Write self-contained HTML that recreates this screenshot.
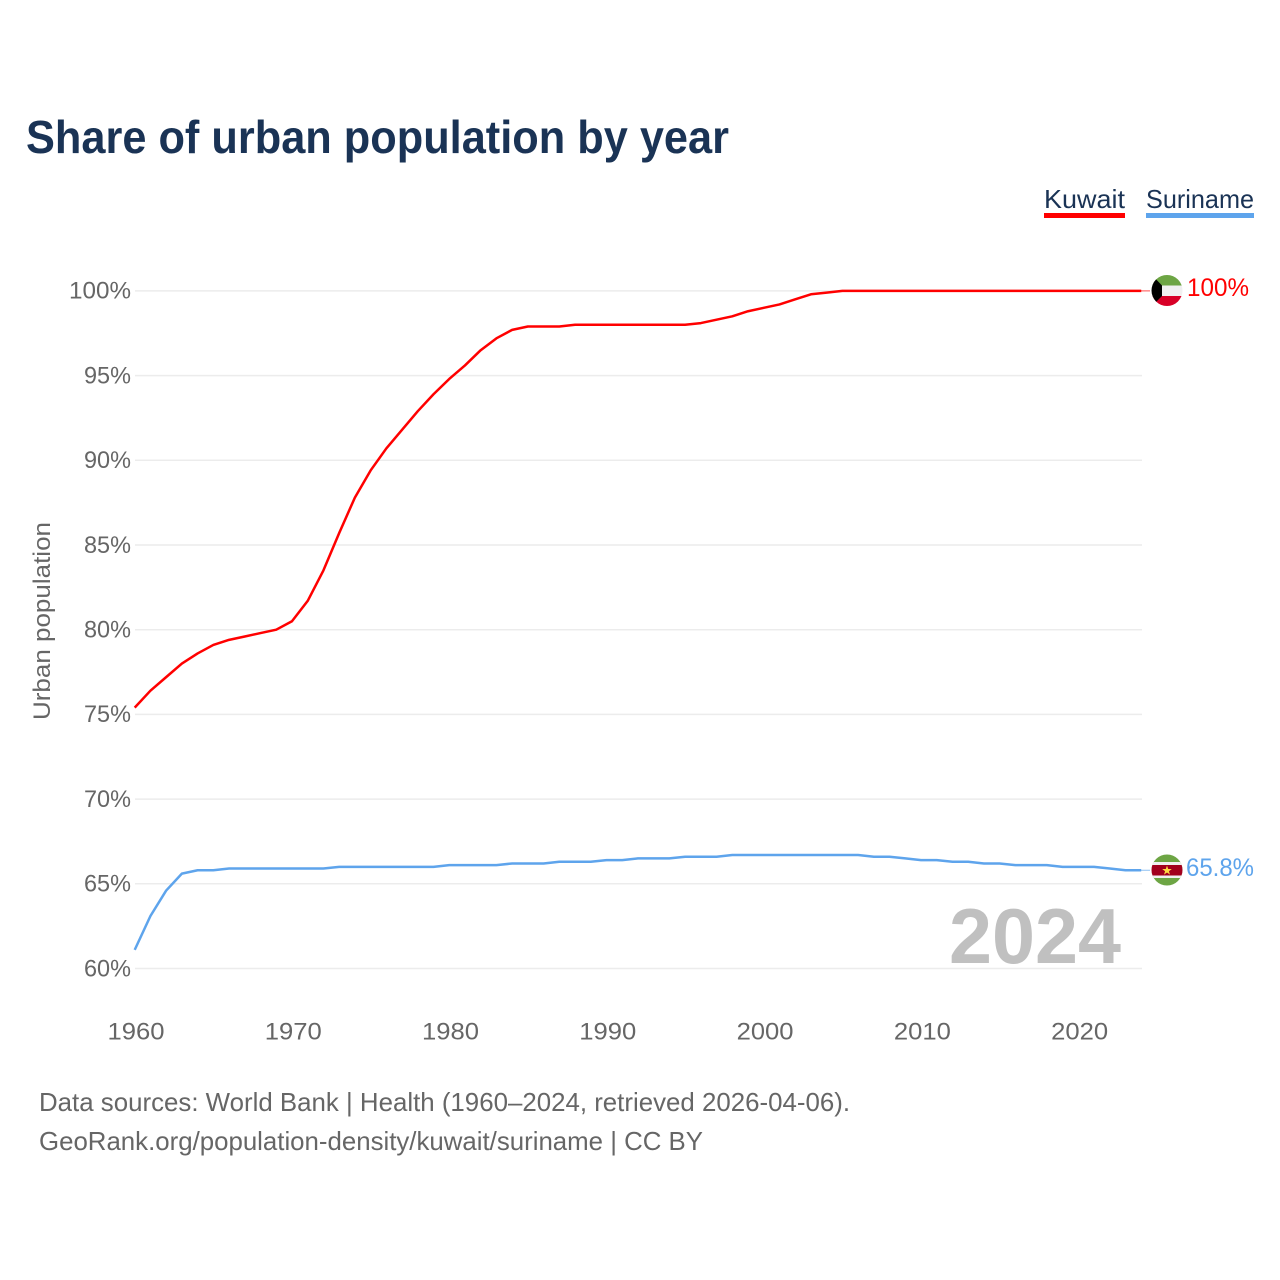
<!DOCTYPE html>
<html lang="en">
<head>
<meta charset="utf-8">
<title>Share of urban population by year</title>
<style>
html,body{margin:0;padding:0;background:#fff;}
svg{display:block;}
text{font-family:"Liberation Sans",sans-serif;}
</style>
</head>
<body>
<svg id="chart" xmlns="http://www.w3.org/2000/svg" width="1280" height="1280" viewBox="0 0 1280 1280">
  <rect width="1280" height="1280" fill="#ffffff"/>
  <text x="26" y="153" font-size="46" font-weight="700" fill="#1a3355" textLength="703" lengthAdjust="spacingAndGlyphs">Share of urban population by year</text>

  <g>
    <g>
      <text x="1044" y="208" font-size="26" fill="#1a3355" textLength="81" lengthAdjust="spacingAndGlyphs">Kuwait</text>
      <rect x="1044" y="213" width="81" height="5" fill="#ff0000"/>
    </g>
    <g>
      <text x="1146" y="208" font-size="26" fill="#1a3355" textLength="108" lengthAdjust="spacingAndGlyphs">Suriname</text>
      <rect x="1146" y="213" width="108" height="5" fill="#5ea4ec"/>
    </g>
  </g>

  <g id="grid"></g>
  <g id="y-ticks"></g>
  <g id="x-ticks"></g>
  <text transform="translate(50,720) rotate(-90)" font-size="24" fill="#666666" textLength="198" lengthAdjust="spacingAndGlyphs">Urban population</text>

  <text x="1121" y="963" text-anchor="end" font-size="78" font-weight="700" fill="#c0c0c0" textLength="172" lengthAdjust="spacingAndGlyphs">2024</text>

  <g id="series"></g>

  <defs>
    <clipPath id="clip-kuwait"><circle cx="1167" cy="290.5" r="15.5"/></clipPath>
    <clipPath id="clip-suriname"><circle cx="1167" cy="870" r="15.5"/></clipPath>
  </defs>
  <g clip-path="url(#clip-kuwait)">
    <rect x="1150" y="275" width="34" height="11" fill="#6da544"/>
    <rect x="1150" y="285.5" width="34" height="10.5" fill="#f0f0f0"/>
    <rect x="1150" y="296" width="34" height="11" fill="#d80027"/>
    <polygon points="1150,273 1162,285.5 1162,296 1150,308" fill="#000000"/>
  </g>
  <g clip-path="url(#clip-suriname)">
    <rect x="1150" y="854" width="34" height="32" fill="#6da544"/>
    <rect x="1150" y="862" width="34" height="16" fill="#f0f0f0"/>
    <rect x="1150" y="865" width="34" height="10.5" fill="#a2001d"/>
    <polygon points="1167,865.6 1168.2,869 1171.8,869 1168.9,871.2 1170,874.6 1167,872.5 1164,874.6 1165.1,871.2 1162.2,869 1165.8,869" fill="#ffda44"/>
  </g>
  <text x="1187" y="296" font-size="25" fill="#ff0000" textLength="62" lengthAdjust="spacingAndGlyphs">100%</text>
  <text x="1186" y="876" font-size="25" fill="#5ea4ec" textLength="68" lengthAdjust="spacingAndGlyphs">65.8%</text>

  <g>
    <text x="39" y="1111" font-size="26" fill="#666666" textLength="811" lengthAdjust="spacingAndGlyphs">Data sources: World Bank | Health (1960–2024, retrieved 2026-04-06).</text>
    <text x="39" y="1150" font-size="26" fill="#666666" textLength="664" lengthAdjust="spacingAndGlyphs">GeoRank.org/population-density/kuwait/suriname | CC BY</text>
  </g>
</svg>
<script>
const years = [1960,1961,1962,1963,1964,1965,1966,1967,1968,1969,1970,1971,1972,1973,1974,1975,1976,1977,1978,1979,1980,1981,1982,1983,1984,1985,1986,1987,1988,1989,1990,1991,1992,1993,1994,1995,1996,1997,1998,1999,2000,2001,2002,2003,2004,2005,2006,2007,2008,2009,2010,2011,2012,2013,2014,2015,2016,2017,2018,2019,2020,2021,2022,2023,2024];
const kuwaitValues = [75.4,76.4,77.2,78.0,78.6,79.1,79.4,79.6,79.8,80.0,80.5,81.7,83.5,85.7,87.8,89.4,90.7,91.8,92.9,93.9,94.8,95.6,96.5,97.2,97.7,97.9,97.9,97.9,98.0,98.0,98.0,98.0,98.0,98.0,98.0,98.0,98.1,98.3,98.5,98.8,99.0,99.2,99.5,99.8,99.9,100,100,100,100,100,100,100,100,100,100,100,100,100,100,100,100,100,100,100,100];
const surinameValues = [61.1,63.1,64.6,65.6,65.8,65.8,65.9,65.9,65.9,65.9,65.9,65.9,65.9,66.0,66.0,66.0,66.0,66.0,66.0,66.0,66.1,66.1,66.1,66.1,66.2,66.2,66.2,66.3,66.3,66.3,66.4,66.4,66.5,66.5,66.5,66.6,66.6,66.6,66.7,66.7,66.7,66.7,66.7,66.7,66.7,66.7,66.7,66.6,66.6,66.5,66.4,66.4,66.3,66.3,66.2,66.2,66.1,66.1,66.1,66.0,66.0,66.0,65.9,65.8,65.8];
const yTickValues = [60,65,70,75,80,85,90,95,100];
const xTickValues = [1960,1970,1980,1990,2000,2010,2020];

const NS = 'http://www.w3.org/2000/svg';
function xScale(year) { return 135.5 + (year - 1960) * (1142 - 135.5) / 64; }
function yScale(value) { return 968.5 - (value - 60) * (968.5 - 290.9) / 40; }
function make(tag, parent, attrs, text) {
  const el = document.createElementNS(NS, tag);
  for (const k in attrs) el.setAttribute(k, attrs[k]);
  if (text !== undefined) el.textContent = text;
  parent.appendChild(el);
  return el;
}

const gridGroup = document.getElementById('grid');
const yTickGroup = document.getElementById('y-ticks');
const xTickGroup = document.getElementById('x-ticks');
const seriesGroup = document.getElementById('series');

yTickValues.forEach(function (v) {
  const line = make('line', gridGroup, {x1: 135, x2: 1142, y1: yScale(v), y2: yScale(v), stroke: '#ececec', 'stroke-width': 1.5});
  
  
  const label = v + '%';
  const t = make('text', yTickGroup, {x: 131, y: yScale(v) + 7.8, 'text-anchor': 'end', 'font-size': 24, fill: '#666666', textLength: label.length === 4 ? 62 : 47, lengthAdjust: 'spacingAndGlyphs'}, label);
  
  
});

xTickValues.forEach(function (y) {
  const t = make('text', xTickGroup, {x: xScale(y) + 0.5, y: 1039.5, 'text-anchor': 'middle', 'font-size': 24, fill: '#666666', textLength: 57, lengthAdjust: 'spacingAndGlyphs'}, String(y));
  
  
});

function drawSeries(name, values, color) {
  const pts = values.map(function (v, i) { return (xScale(years[i]) - 0.8).toFixed(2) + ',' + yScale(v).toFixed(2); }).join(' ');
  const line = make('polyline', seriesGroup, {points: pts, fill: 'none', stroke: color, 'stroke-width': 2.5, 'stroke-linejoin': 'round'});
  
  
  const lastY = yScale(values[values.length - 1]);
  const stub = make('line', seriesGroup, {x1: 1141, x2: 1150, y1: lastY, y2: lastY, stroke: color, 'stroke-width': 1, opacity: 0.7});
  
  
}
drawSeries('kuwait', kuwaitValues, '#ff0000');
drawSeries('suriname', surinameValues, '#5ea4ec');
</script>
</body>
</html>
